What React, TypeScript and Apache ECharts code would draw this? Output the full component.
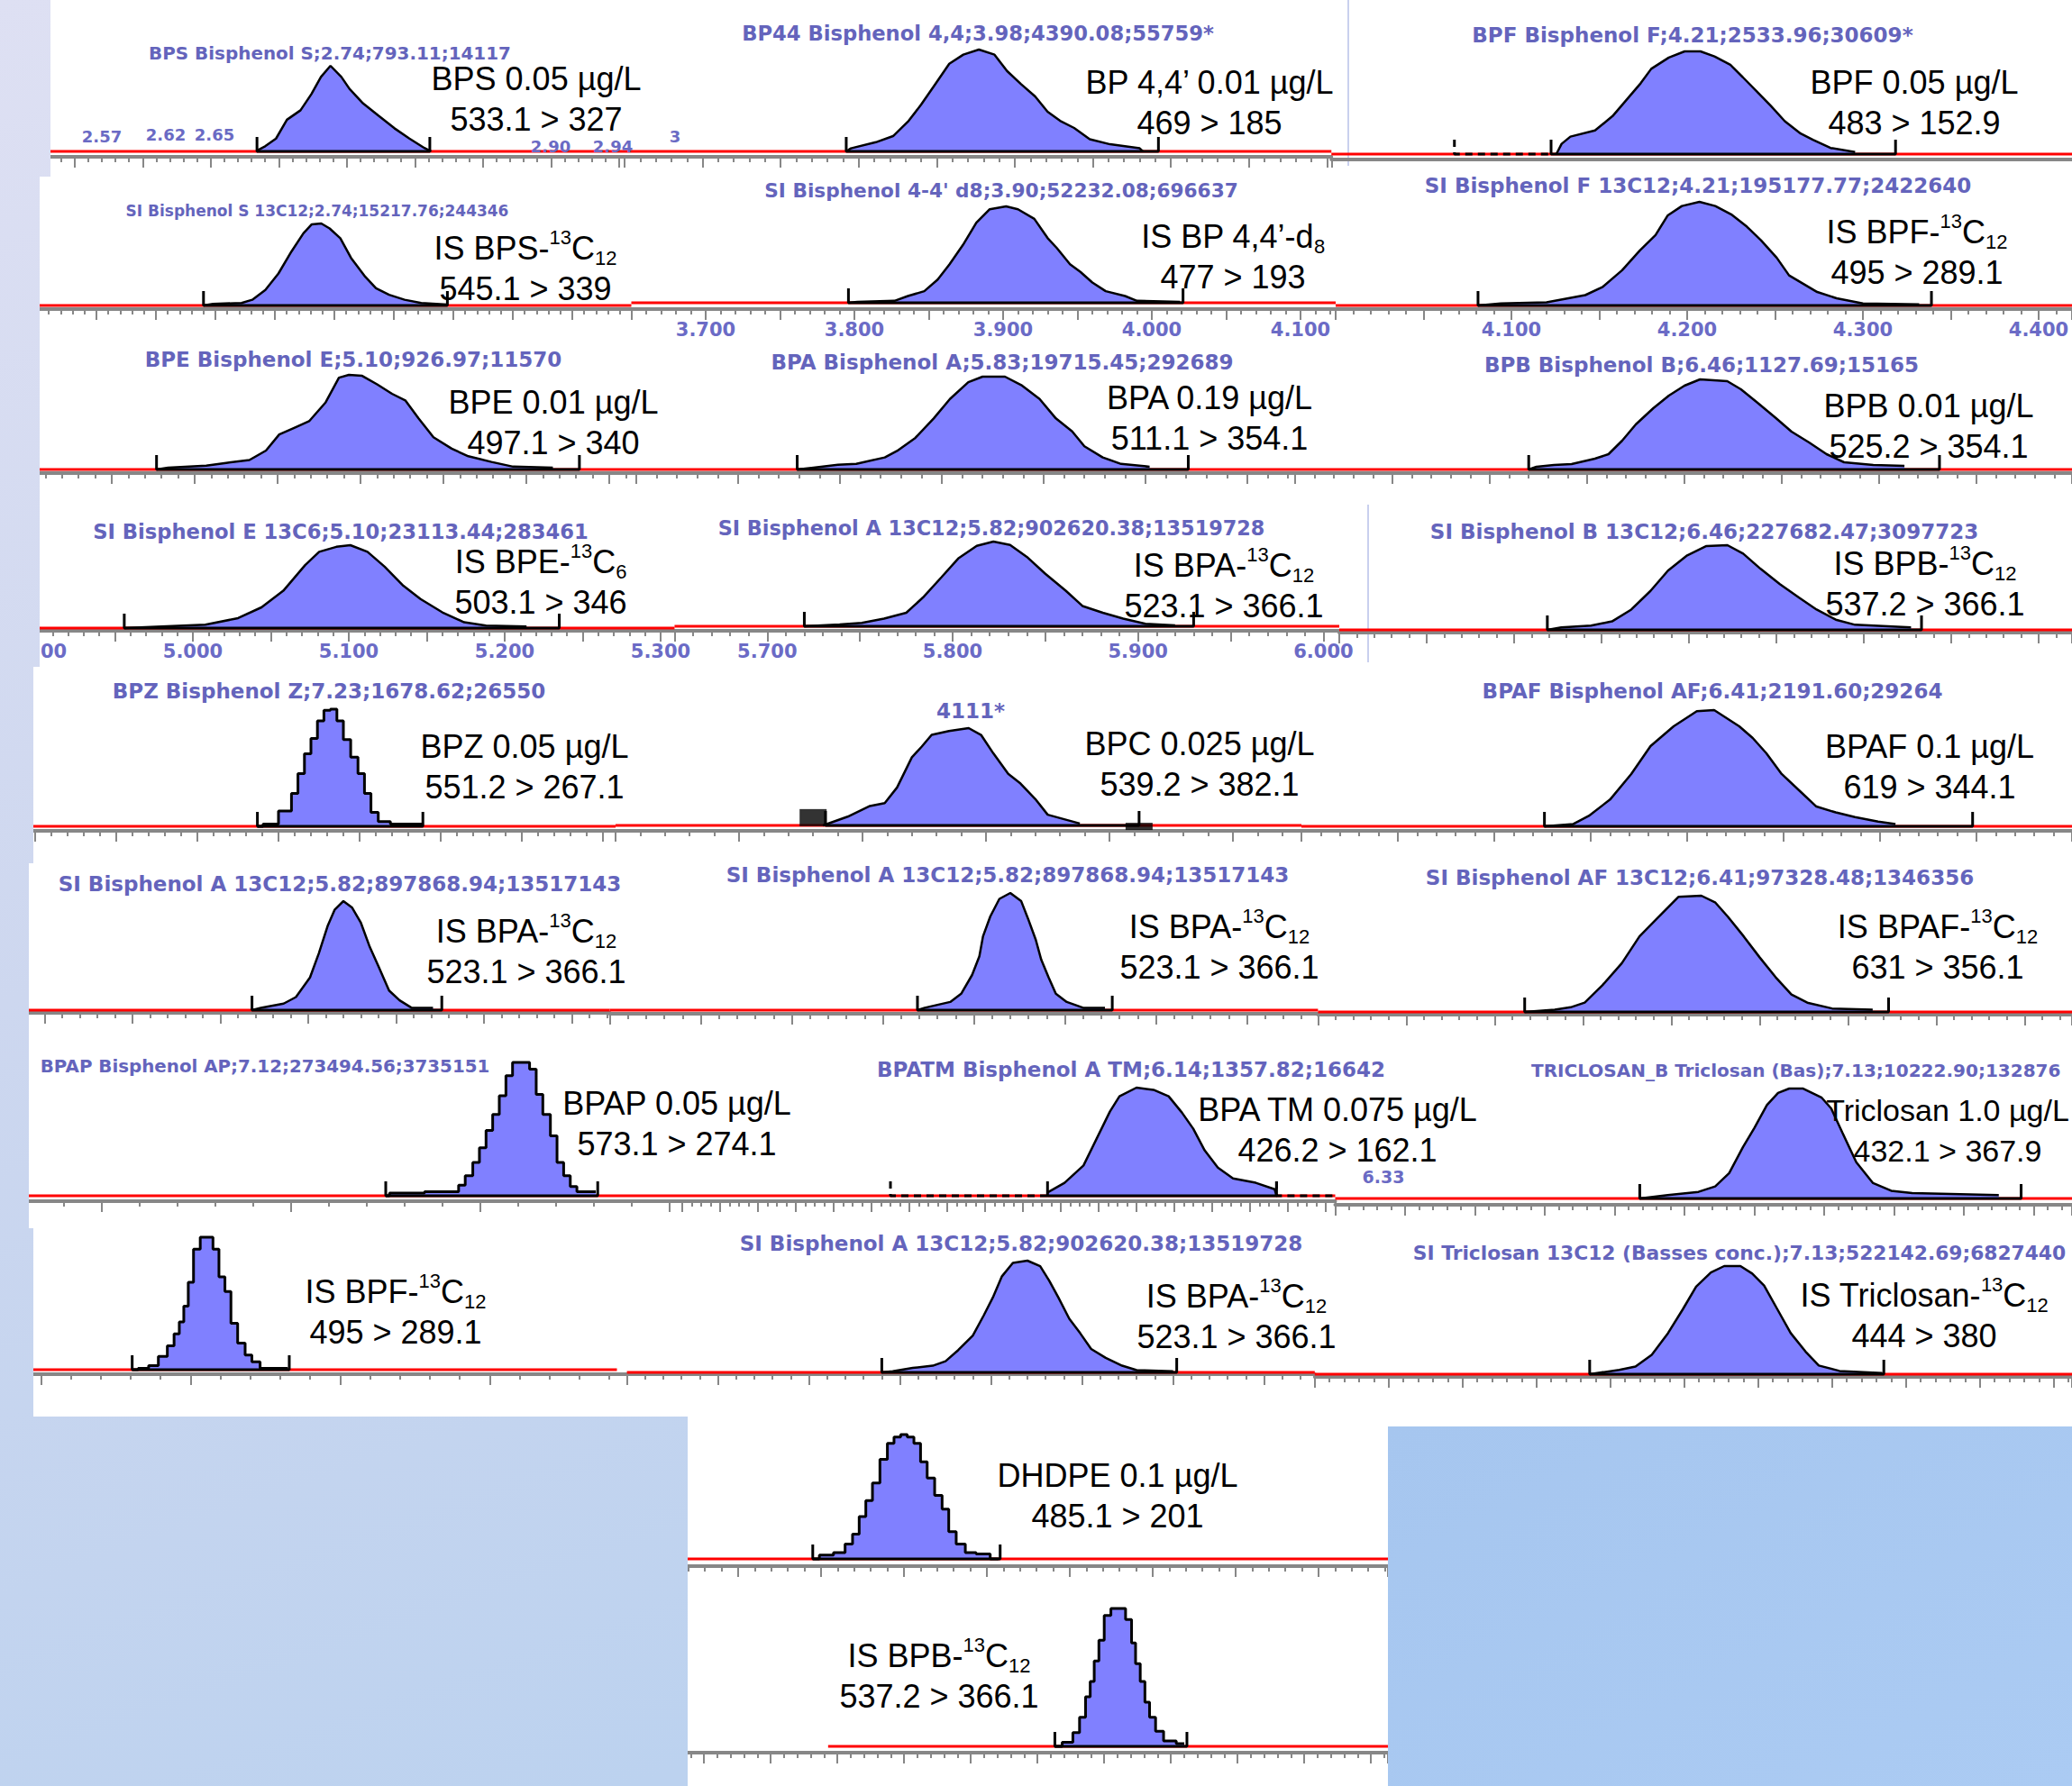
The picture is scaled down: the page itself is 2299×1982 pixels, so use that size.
import React, { useEffect, useRef } from "react";
import * as echarts from "echarts";

const W = 2299;
const H = 1982;
const OX = 200; // off-screen margin on the left so that every grid starts at a positive x

// ---------------- chromatogram data (time in min, signal in % of apex) ----------------
const bpsTime = [2.684, 2.69, 2.698, 2.706, 2.716, 2.724, 2.731, 2.738, 2.746, 2.752, 2.762, 2.773, 2.785, 2.796, 2.807, 2.812];
const bpsSignal = [1, 6, 15, 37, 48, 67, 87, 100, 87, 73, 56, 42, 27, 15, 4, 0];
const bpsInteg = [2.684, 2.811];
const bpsRtLabels = ["2.57", "2.62", "2.65", "2.90", "2.94", "3"];

const bp44Time = [3.892, 3.895, 3.911, 3.922, 3.932, 3.94, 3.949, 3.958, 3.967, 3.977, 3.987, 3.995, 4.004, 4.013, 4.021, 4.029, 4.038, 4.048, 4.061, 4.08, 4.082];
const bp44Signal = [0, 3, 9, 15, 30, 46, 66, 86, 95, 100, 95, 79, 66, 54, 39, 30, 23, 12, 7, 3, 0];
const bp44Integ = [3.892, 4.092];

const bpfTime = [4.128, 4.131, 4.136, 4.15, 4.16, 4.168, 4.176, 4.182, 4.192, 4.201, 4.21, 4.218, 4.227, 4.234, 4.242, 4.25, 4.258, 4.267, 4.274, 4.284, 4.298];
const bpfSignal = [0, 10, 17, 23, 37, 53, 69, 83, 94, 100, 100, 95, 87, 75, 61, 47, 32, 20, 14, 6, 2];
const bpfInteg = [4.125, 4.321];
const bpfPreInteg = [4.07, 4.125];

const isBpsTime = [2.64, 2.648, 2.672, 2.681, 2.692, 2.703, 2.714, 2.724, 2.731, 2.739, 2.746, 2.755, 2.764, 2.776, 2.785, 2.796, 2.809, 2.823, 2.845];
const isBpsSignal = [0, 2, 3, 7, 19, 39, 66, 88, 99, 100, 94, 82, 58, 35, 21, 13, 7, 3, 1];
const isBpsInteg = [2.64, 2.845];

const isBp44Time = [3.796, 3.802, 3.827, 3.836, 3.847, 3.856, 3.864, 3.873, 3.882, 3.891, 3.902, 3.91, 3.921, 3.93, 3.936, 3.945, 3.952, 3.96, 3.969, 3.982, 3.99, 4.019];
const isBp44Signal = [0, 1, 2, 7, 12, 24, 40, 60, 83, 97, 100, 97, 87, 67, 57, 40, 32, 21, 12, 7, 2, 1];
const isBp44Integ = [3.796, 4.021];

const isBpfTime = [4.081, 4.094, 4.12, 4.142, 4.152, 4.163, 4.173, 4.182, 4.189, 4.197, 4.207, 4.216, 4.225, 4.234, 4.242, 4.251, 4.258, 4.266, 4.274, 4.285, 4.3, 4.332];
const isBpfSignal = [0, 2, 3, 10, 18, 34, 53, 68, 87, 96, 100, 96, 88, 76, 63, 46, 29, 21, 13, 7, 2, 1];
const isBpfInteg = [4.081, 4.339];

const bpeTime = [4.977, 4.984, 5.007, 5.019, 5.033, 5.043, 5.051, 5.06, 5.069, 5.079, 5.087, 5.093, 5.101, 5.11, 5.119, 5.127, 5.135, 5.144, 5.155, 5.165, 5.179, 5.192, 5.216];
const bpeSignal = [0, 2, 4, 7, 10, 20, 37, 44, 51, 71, 97, 100, 99, 90, 80, 73, 54, 34, 22, 14, 8, 3, 2];
const bpeInteg = [4.977, 5.232];

const bpaTime = [5.729, 5.737, 5.749, 5.758, 5.772, 5.778, 5.787, 5.796, 5.804, 5.813, 5.82, 5.831, 5.839, 5.848, 5.856, 5.864, 5.87, 5.879, 5.888, 5.902];
const bpaSignal = [0, 2, 5, 6, 13, 20, 34, 55, 76, 94, 100, 100, 91, 76, 55, 41, 25, 13, 6, 3];
const bpaInteg = [5.729, 5.921];

const bpbTime = [6.37, 6.374, 6.383, 6.392, 6.404, 6.411, 6.418, 6.425, 6.434, 6.442, 6.45, 6.458, 6.472, 6.479, 6.487, 6.497, 6.505, 6.514, 6.523, 6.532, 6.547, 6.563];
const bpbSignal = [0, 3, 5, 6, 12, 17, 32, 50, 68, 82, 93, 100, 98, 89, 75, 57, 42, 30, 17, 8, 5, 4];
const bpbInteg = [6.37, 6.581];

const isBpeTime = [4.956, 4.98, 5.008, 5.029, 5.044, 5.058, 5.072, 5.081, 5.092, 5.101, 5.112, 5.123, 5.135, 5.146, 5.16, 5.174, 5.188, 5.214];
const isBpeSignal = [0, 2, 4, 12, 25, 45, 76, 92, 98, 100, 92, 74, 51, 35, 19, 7, 3, 2];
const isBpeInteg = [4.956, 5.235];

const isBpaATime = [5.72, 5.739, 5.751, 5.763, 5.775, 5.784, 5.794, 5.803, 5.813, 5.822, 5.831, 5.84, 5.85, 5.861, 5.87, 5.881, 5.892, 5.904, 5.92];
const isBpaASignal = [0, 2, 4, 9, 16, 34, 58, 80, 95, 100, 96, 82, 62, 42, 24, 16, 9, 3, 1];
const isBpaAInteg = [5.72, 5.93];

const isBpbATime = [6.369, 6.377, 6.394, 6.406, 6.417, 6.428, 6.438, 6.449, 6.46, 6.472, 6.481, 6.491, 6.502, 6.513, 6.523, 6.534, 6.545, 6.577];
const isBpbASignal = [0, 3, 5, 10, 24, 46, 70, 88, 99, 100, 90, 72, 54, 38, 24, 12, 6, 3];
const isBpbAInteg = [6.369, 6.583];

const bpzTime = [7.187, 7.194, 7.206, 7.21, 7.214, 7.218, 7.222, 7.226, 7.23, 7.234, 7.238, 7.242, 7.247, 7.251, 7.255, 7.259, 7.264, 7.274, 7.289];
const bpzSignal = [0, 2, 13, 28, 45, 62, 75, 90, 99, 100, 90, 74, 59, 45, 28, 12, 4, 2, 2];
const bpzInteg = [7.187, 7.289];

const bpcTime = [6.934, 6.944, 6.953, 6.959, 6.964, 6.97, 6.974, 6.978, 6.985, 6.993, 6.998, 7.003, 7.009, 7.014, 7.02, 7.025, 7.038];
const bpcSignal = [0, 9, 20, 23, 39, 70, 81, 93, 97, 100, 93, 74, 53, 43, 27, 11, 2];
const bpcInteg = [6.935, 7.062];
const bpcMarkTime = [6.93, 7.062];
const bpcMarkLevel = [8, -1];

const bpafTime = [6.326, 6.341, 6.349, 6.36, 6.371, 6.381, 6.393, 6.405, 6.414, 6.427, 6.434, 6.441, 6.449, 6.458, 6.467, 6.477, 6.487, 6.499, 6.508];
const bpafSignal = [0, 2, 9, 23, 45, 69, 86, 99, 100, 86, 76, 63, 45, 31, 17, 12, 8, 4, 2];
const bpafInteg = [6.326, 6.548];

const isBpaBTime = [5.768, 5.773, 5.786, 5.793, 5.801, 5.806, 5.811, 5.815, 5.82, 5.825, 5.83, 5.835, 5.84, 5.846, 5.852, 5.859, 5.871];
const isBpaBSignal = [0, 2, 6, 12, 30, 52, 77, 92, 100, 94, 80, 58, 40, 18, 9, 2, 2];
const isBpaBInteg = [5.768, 5.876];

const isBpaCTime = [5.769, 5.773, 5.787, 5.793, 5.799, 5.803, 5.805, 5.809, 5.814, 5.82, 5.826, 5.83, 5.834, 5.837, 5.841, 5.845, 5.851, 5.86, 5.872];
const isBpaCSignal = [0, 2, 7, 14, 30, 46, 63, 80, 95, 100, 93, 77, 60, 43, 28, 14, 7, 2, 2];
const isBpaCInteg = [5.769, 5.876];

const isBpafTime = [6.317, 6.334, 6.343, 6.351, 6.361, 6.372, 6.382, 6.393, 6.404, 6.417, 6.425, 6.432, 6.441, 6.45, 6.459, 6.468, 6.477, 6.491, 6.514];
const isBpafSignal = [0, 2, 4, 8, 23, 42, 65, 82, 99, 100, 94, 82, 65, 47, 30, 15, 8, 3, 2];
const isBpafInteg = [6.317, 6.523];

const bpapTime = [7.05, 7.054, 7.087, 7.09, 7.094, 7.098, 7.101, 7.105, 7.108, 7.112, 7.115, 7.119, 7.124, 7.128, 7.131, 7.135, 7.139, 7.142, 7.146, 7.149, 7.153, 7.161];
const bpapSignal = [0, 2, 3, 8, 15, 25, 36, 49, 61, 75, 90, 100, 100, 95, 76, 61, 45, 25, 15, 7, 3, 3];
const bpapInteg = [7.05, 7.162];

const bpatmTime = [6.093, 6.102, 6.112, 6.119, 6.126, 6.131, 6.14, 6.149, 6.157, 6.164, 6.17, 6.176, 6.183, 6.191, 6.203, 6.213, 6.214];
const bpatmSignal = [3, 12, 28, 53, 78, 92, 100, 98, 92, 77, 62, 42, 26, 16, 12, 6, 0];
const bpatmInteg = [6.093, 6.214];
const bpatmPreInteg = [6.01, 6.093];
const bpatmPostInteg = [6.214, 6.244];

const tcsTime = [7.018, 7.038, 7.06, 7.072, 7.082, 7.092, 7.1, 7.109, 7.117, 7.125, 7.135, 7.148, 7.155, 7.163, 7.173, 7.185, 7.198, 7.213, 7.275];
const tcsSignal = [0, 3, 6, 11, 23, 47, 64, 85, 96, 100, 100, 92, 82, 60, 33, 14, 7, 5, 3];
const tcsInteg = [7.018, 7.291];

const isBpfBTime = [4.161, 4.169, 4.175, 4.182, 4.187, 4.191, 4.194, 4.197, 4.2, 4.204, 4.209, 4.213, 4.217, 4.221, 4.225, 4.229, 4.234, 4.239, 4.243, 4.25, 4.265];
const isBpfBSignal = [0, 1, 3, 10, 18, 27, 36, 48, 66, 91, 100, 100, 91, 70, 59, 35, 20, 11, 6, 1, 1];
const isBpfBInteg = [4.161, 4.266];

const isBpaDTime = [5.74, 5.746, 5.757, 5.768, 5.775, 5.782, 5.79, 5.796, 5.801, 5.806, 5.812, 5.82, 5.827, 5.832, 5.837, 5.843, 5.849, 5.855, 5.863, 5.872, 5.88, 5.9];
const isBpaDSignal = [0, 1, 4, 6, 10, 20, 33, 51, 67, 86, 98, 100, 95, 82, 67, 48, 35, 21, 13, 6, 2, 1];
const isBpaDInteg = [5.74, 5.902];

const isTcsTime = [7.036, 7.056, 7.067, 7.078, 7.089, 7.099, 7.108, 7.118, 7.127, 7.138, 7.146, 7.154, 7.163, 7.172, 7.182, 7.191, 7.205, 7.234];
const isTcsSignal = [0, 4, 7, 18, 38, 60, 81, 94, 100, 100, 93, 82, 60, 38, 21, 8, 3, 1];
const isTcsInteg = [7.036, 7.235];

const dhdpeTime = [6.195, 6.203, 6.212, 6.217, 6.221, 6.225, 6.229, 6.233, 6.238, 6.242, 6.246, 6.25, 6.254, 6.258, 6.262, 6.266, 6.271, 6.275, 6.279, 6.284, 6.29, 6.297, 6.307];
const dhdpeSignal = [0, 3, 5, 12, 20, 34, 47, 61, 80, 93, 98, 100, 98, 93, 78, 65, 51, 40, 22, 12, 5, 4, 0];
const dhdpeInteg = [6.195, 6.308];

const isBpbBTime = [6.413, 6.424, 6.429, 6.434, 6.438, 6.441, 6.444, 6.448, 6.452, 6.458, 6.463, 6.469, 6.472, 6.475, 6.479, 6.482, 6.486, 6.491, 6.498, 6.51];
const isBpbBSignal = [0, 3, 10, 21, 36, 47, 62, 77, 95, 100, 100, 92, 75, 60, 47, 32, 21, 11, 4, 2];
const isBpbBInteg = [6.413, 6.512];

// ---------------- layout ----------------
type Seg = [string, string];
const T = (s: string): Seg[] => [[s, "n"]];
const ISO = (name: string, n: string): Seg[] => [[name + "-", "n"], ["13", "sup"], ["C", "n"], [n, "sub"]];

interface PanelDef {
  group: string;
  time: number[];
  signal: number[];
  integ: number[];
  left: number;
  right?: number;
  xr: number;
  tr: number;
  s: number;
  iv?: number;
  minor?: number;
  zeroY: number;
  apexY: number;
  axisY: number;
  ticks?: boolean;
  labels?: boolean;
  hideMinLabel?: boolean;
  step?: boolean;
  redFrom?: number;
  redTo?: number;
  dashed?: number[][];
  title?: { text: string; x: number; y: number; w: number; align?: string };
  label: { lines: Seg[][]; x: number; y: number; fs?: number };
  marks?: { time: number[]; level: number[]; sizes: number[][] };
}

const PANELS: PanelDef[] = [
  { group: "r1", time: bpsTime, signal: bpsSignal, integ: bpsInteg, left: 56, xr: 113, tr: 2.57, s: 1510, zeroY: 168, apexY: 73, axisY: 174,
    title: { text: "BPS Bisphenol S;2.74;793.11;14117", x: 366, y: 59, w: 402 },
    label: { lines: [T("BPS 0.05 µg/L"), T("533.1 > 327")], x: 595, y: 87 } },
  { group: "r1", time: bp44Time, signal: bp44Signal, integ: bp44Integ, left: 755, xr: 1126, tr: 4.0, s: 1732, zeroY: 168, apexY: 55, axisY: 174,
    title: { text: "BP44 Bisphenol 4,4;3.98;4390.08;55759*", x: 1085, y: 37, w: 524 },
    label: { lines: [T("BP 4,4’ 0.01 µg/L"), T("469 > 185")], x: 1342, y: 91 } },
  { group: "r1", time: bpfTime, signal: bpfSignal, integ: bpfInteg, left: 1496, xr: 1877, tr: 4.205, s: 1950, zeroY: 171, apexY: 57, axisY: 177, ticks: false, dashed: [bpfPreInteg],
    title: { text: "BPF Bisphenol F;4.21;2533.96;30609*", x: 1878, y: 39, w: 565 },
    label: { lines: [T("BPF 0.05 µg/L"), T("483 > 152.9")], x: 2124, y: 91 } },

  { group: "r2", time: isBpsTime, signal: isBpsSignal, integ: isBpsInteg, left: 44, xr: 371, tr: 2.75, s: 1320, zeroY: 339, apexY: 248, axisY: 343,
    title: { text: "SI Bisphenol S 13C12;2.74;15217.76;244346", x: 352, y: 234, w: 425 },
    label: { lines: [ISO("IS BPS", "12"), T("545.1 > 339")], x: 583, y: 275 } },
  { group: "r2", time: isBp44Time, signal: isBp44Signal, integ: isBp44Integ, left: 757, xr: 1113, tr: 3.9, s: 1650, zeroY: 336, apexY: 229, axisY: 343, labels: true,
    title: { text: "SI Bisphenol 4-4' d8;3.90;52232.08;696637", x: 1111, y: 211, w: 526 },
    label: { lines: [[["IS BP 4,4’-d", "n"], ["8", "sub"]], T("477 > 193")], x: 1368, y: 262 } },
  { group: "r2", time: isBpfTime, signal: isBpfSignal, integ: isBpfInteg, left: 1515, xr: 1872, tr: 4.2, s: 1950, zeroY: 339, apexY: 224, axisY: 343, labels: true, hideMinLabel: true,
    title: { text: "SI Bisphenol F 13C12;4.21;195177.77;2422640", x: 1884, y: 206, w: 683 },
    label: { lines: [ISO("IS BPF", "12"), T("495 > 289.1")], x: 2127, y: 257 } },

  { group: "r3", time: bpeTime, signal: bpeSignal, integ: bpeInteg, left: 44, xr: 400, tr: 5.1, s: 1840, zeroY: 521, apexY: 416, axisY: 525,
    title: { text: "BPE Bisphenol E;5.10;926.97;11570", x: 392, y: 399, w: 489 },
    label: { lines: [T("BPE 0.01 µg/L"), T("497.1 > 340")], x: 614, y: 446 } },
  { group: "r3", time: bpaTime, signal: bpaSignal, integ: bpaInteg, left: 757, xr: 1045, tr: 5.8, s: 2260, zeroY: 521, apexY: 418, axisY: 525,
    title: { text: "BPA Bisphenol A;5.83;19715.45;292689", x: 1112, y: 402, w: 542 },
    label: { lines: [T("BPA 0.19 µg/L"), T("511.1 > 354.1")], x: 1342, y: 441 } },
  { group: "r3", time: bpbTime, signal: bpbSignal, integ: bpbInteg, left: 1515, xr: 1869, tr: 6.45, s: 2160, zeroY: 521, apexY: 421, axisY: 525,
    title: { text: "BPB Bisphenol B;6.46;1127.69;15165", x: 1888, y: 405, w: 575 },
    label: { lines: [T("BPB 0.01 µg/L"), T("525.2 > 354.1")], x: 2140, y: 450 } },

  { group: "r4", time: isBpeTime, signal: isBpeSignal, integ: isBpeInteg, left: 44, xr: 387, tr: 5.1, s: 1730, zeroY: 697, apexY: 605, axisY: 700, labels: true,
    title: { text: "SI Bisphenol E 13C6;5.10;23113.44;283461", x: 378, y: 590, w: 550 },
    label: { lines: [ISO("IS BPE", "6"), T("503.1 > 346")], x: 600, y: 623 } },
  { group: "r4", time: isBpaATime, signal: isBpaASignal, integ: isBpaAInteg, left: 757, xr: 1057, tr: 5.8, s: 2057, zeroY: 695, apexY: 601, axisY: 700, labels: true,
    title: { text: "SI Bisphenol A 13C12;5.82;902620.38;13519728", x: 1100, y: 586, w: 607 },
    label: { lines: [ISO("IS BPA", "12"), T("523.1 > 366.1")], x: 1358, y: 627 } },
  { group: "r4", time: isBpbATime, signal: isBpbASignal, integ: isBpbAInteg, left: 1518, xr: 1874, tr: 6.45, s: 1940, zeroY: 699, apexY: 605, axisY: 702,
    title: { text: "SI Bisphenol B 13C12;6.46;227682.47;3097723", x: 1891, y: 590, w: 658 },
    label: { lines: [ISO("IS BPB", "12"), T("537.2 > 366.1")], x: 2136, y: 625 } },

  { group: "r5", time: bpzTime, signal: bpzSignal, integ: bpzInteg, left: 37, xr: 363, tr: 7.23, s: 1800, zeroY: 917, apexY: 787, axisY: 922, step: true,
    title: { text: "BPZ Bisphenol Z;7.23;1678.62;26550", x: 365, y: 767, w: 582 },
    label: { lines: [T("BPZ 0.05 µg/L"), T("551.2 > 267.1")], x: 582, y: 828 } },
  { group: "r5", time: bpcTime, signal: bpcSignal, integ: bpcInteg, left: 757, xr: 1094, tr: 7.0, s: 2740, zeroY: 916, apexY: 808, axisY: 922,
    marks: { time: bpcMarkTime, level: bpcMarkLevel, sizes: [[30, 19], [30, 8]] },
    title: { text: "4111*", x: 1077, y: 789, w: 113 },
    label: { lines: [T("BPC 0.025 µg/L"), T("539.2 > 382.1")], x: 1331, y: 825 } },
  { group: "r5", time: bpafTime, signal: bpafSignal, integ: bpafInteg, left: 1515, xr: 1872, tr: 6.4, s: 2140, zeroY: 917, apexY: 788, axisY: 922,
    title: { text: "BPAF Bisphenol AF;6.41;2191.60;29264", x: 1900, y: 767, w: 614 },
    label: { lines: [T("BPAF 0.1 µg/L"), T("619 > 344.1")], x: 2141, y: 828 } },

  { group: "r6", time: isBpaBTime, signal: isBpaBSignal, integ: isBpaBInteg, left: 32, xr: 381, tr: 5.82, s: 1950, zeroY: 1121, apexY: 1000, axisY: 1124,
    title: { text: "SI Bisphenol A 13C12;5.82;897868.94;13517143", x: 377, y: 981, w: 660 },
    label: { lines: [ISO("IS BPA", "12"), T("523.1 > 366.1")], x: 584, y: 1033 } },
  { group: "r6", time: isBpaCTime, signal: isBpaCSignal, integ: isBpaCInteg, left: 757, xr: 1121, tr: 5.82, s: 2020, zeroY: 1121, apexY: 991, axisY: 1125,
    title: { text: "SI Bisphenol A 13C12;5.82;897868.94;13517143", x: 1118, y: 971, w: 683 },
    label: { lines: [ISO("IS BPA", "12"), T("523.1 > 366.1")], x: 1353, y: 1028 } },
  { group: "r6", time: isBpafTime, signal: isBpafSignal, integ: isBpafInteg, left: 1515, xr: 1874, tr: 6.41, s: 1960, zeroY: 1123, apexY: 994, axisY: 1126,
    title: { text: "SI Bisphenol AF 13C12;6.41;97328.48;1346356", x: 1886, y: 974, w: 678 },
    label: { lines: [ISO("IS BPAF", "12"), T("631 > 356.1")], x: 2150, y: 1028 } },

  { group: "r7", time: bpapTime, signal: bpapSignal, integ: bpapInteg, left: 32, xr: 575, tr: 7.12, s: 2100, iv: 0.1, zeroY: 1327, apexY: 1179, axisY: 1333, step: true,
    title: { text: "BPAP Bisphenol AP;7.12;273494.56;3735151", x: 294, y: 1183, w: 499 },
    label: { lines: [T("BPAP 0.05 µg/L"), T("573.1 > 274.1")], x: 751, y: 1224 } },
  { group: "r7", time: bpatmTime, signal: bpatmSignal, integ: bpatmInteg, left: 757, xr: 1261, tr: 6.14, s: 2100, iv: 0.02, minor: 4, zeroY: 1327, apexY: 1207, axisY: 1333,
    dashed: [bpatmPreInteg, bpatmPostInteg],
    title: { text: "BPATM Bisphenol A TM;6.14;1357.82;16642", x: 1255, y: 1187, w: 588 },
    label: { lines: [T("BPA TM 0.075 µg/L"), T("426.2 > 162.1")], x: 1484, y: 1231 } },
  { group: "r7", time: tcsTime, signal: tcsSignal, integ: tcsInteg, left: 1515, xr: 1993, tr: 7.13, s: 1550, zeroY: 1330, apexY: 1208, axisY: 1337,
    title: { text: "TRICLOSAN_B Triclosan (Bas);7.13;10222.90;132876", x: 1699, y: 1188, w: 588, align: "left" },
    label: { lines: [T("Triclosan 1.0 µg/L"), T("432.1 > 367.9")], x: 2161, y: 1232, fs: 34 } },

  { group: "r8", time: isBpfBTime, signal: isBpfBSignal, integ: isBpfBInteg, left: 37, xr: 228, tr: 4.21, s: 1660, iv: 0.1, zeroY: 1520, apexY: 1373, axisY: 1525, step: true, redTo: 4.485,
    label: { lines: [ISO("IS BPF", "12"), T("495 > 289.1")], x: 439, y: 1433 } },
  { group: "r8", time: isBpaDTime, signal: isBpaDSignal, integ: isBpaDInteg, left: 757, xr: 1140, tr: 5.82, s: 2020, zeroY: 1523, apexY: 1399, axisY: 1525,
    title: { text: "SI Bisphenol A 13C12;5.82;902620.38;13519728", x: 1133, y: 1380, w: 702 },
    label: { lines: [ISO("IS BPA", "12"), T("523.1 > 366.1")], x: 1372, y: 1438 } },
  { group: "r8", time: isTcsTime, signal: isTcsSignal, integ: isTcsInteg, left: 1515, xr: 1918, tr: 7.13, s: 1640, zeroY: 1525, apexY: 1405, axisY: 1528,
    title: { text: "SI Triclosan 13C12 (Basses conc.);7.13;522142.69;6827440", x: 1930, y: 1390, w: 725 },
    label: { lines: [ISO("IS Triclosan", "12"), T("444 > 380")], x: 2135, y: 1437 } },

  { group: "b1", time: dhdpeTime, signal: dhdpeSignal, integ: dhdpeInteg, left: 763, right: 1540, xr: 1003, tr: 6.25, s: 1840, zeroY: 1730, apexY: 1592, axisY: 1738, step: true,
    label: { lines: [T("DHDPE 0.1 µg/L"), T("485.1 > 201")], x: 1240, y: 1637 } },
  { group: "b2", time: isBpbBTime, signal: isBpbBSignal, integ: isBpbBInteg, left: 763, right: 1540, xr: 1240, tr: 6.46, s: 1480, zeroY: 1938, apexY: 1785, axisY: 1945, step: true, redFrom: 6.243,
    label: { lines: [ISO("IS BPB", "12"), T("537.2 > 366.1")], x: 1042, y: 1837 } },
];

// white panel bands [x, y, w, h] and background strips
const PANEL_RECTS = [
  [56, 0, W - 56, 196], [44, 196, W - 44, 175], [44, 371, W - 44, 369], [37, 740, W - 37, 218],
  [32, 958, W - 32, 180], [32, 1138, W - 32, 225], [37, 1363, W - 37, 209], [1540, 1572, W - 1540, 11], [763, 1572, 777, 410],
];
const STRIP_COVERS = [
  [-OX, 0, OX + 56, 196], [-OX, 196, OX + 44, 175], [-OX, 371, OX + 44, 369], [-OX, 740, OX + 37, 218], [-OX, 958, OX + 32, 180],
  [-OX, 1138, OX + 32, 225], [-OX, 1363, OX + 37, 209], [-OX, 1572, OX + 763, 410],
];
const RT_LABEL_POS = [[113, 151], [184, 149], [238, 149], [611, 162], [680, 162], [749, 151]];

const LABEL_FONT = "Liberation Sans, Arial, sans-serif";
const TITLE_FONT = "DejaVu Sans";
const TITLE_COLOR = "#6464BC";
const AXIS_GRAY = "#878787";
const PEAK_FILL = "#8080FF";

function bgGradient() {
  return new echarts.graphic.LinearGradient(OX, 0, OX + 700, 1982, [
    { offset: 0, color: "#DEE0F3" },
    { offset: 0.5, color: "#CDD7EF" },
    { offset: 1, color: "#BCD2EF" },
  ], true);
}

function buildOption() {
  const ctx = document.createElement("canvas").getContext("2d") as CanvasRenderingContext2D;
  const fit = (text: string, w: number) => {
    ctx.font = `bold 100px "${TITLE_FONT}"`;
    const m = ctx.measureText(text).width || 1;
    return Math.max(12, Math.min(23, (100 * w) / m));
  };
  const X = (x: number) => x + OX;
  const tAt = (p: PanelDef, x: number) => p.tr + (x - p.xr) / p.s;
  const xAt = (p: PanelDef, t: number) => p.xr + (t - p.tr) * p.s;

  const geo = PANELS.map((p) => {
    const iv = p.iv ?? 0.05;
    const min = Math.round(Math.floor(tAt(p, p.left) / iv + 1e-6) * iv * 10000) / 10000;
    return { iv, min, gx0: xAt(p, min), gx1: 0, max: 0, first: false };
  });
  PANELS.forEach((p, i) => {
    const next = PANELS[i + 1];
    const sameNext = next && next.group === p.group;
    geo[i].gx1 = sameNext ? geo[i + 1].gx0 : (p.right ?? W);
    geo[i].max = tAt(p, geo[i].gx1);
    geo[i].first = i === 0 || PANELS[i - 1].group !== p.group;
  });

  const grids: any[] = [];
  const xAxes: any[] = [];
  const yAxes: any[] = [];
  const series: any[] = [];
  const texts: any[] = [];

  PANELS.forEach((p, i) => {
    const g = geo[i];
    const plotH = p.zeroY - p.apexY;
    const mh = (16 / plotH) * 100;
    grids.push({ left: X(g.gx0), top: p.apexY, width: g.gx1 - g.gx0, height: plotH, containLabel: false });
    const showTicks = p.ticks !== false;
    xAxes.push({
      type: "value", gridIndex: i, min: g.min, max: g.max, interval: g.iv, z: 3,
      offset: p.axisY - p.zeroY,
      splitLine: { show: false },
      axisLine: { show: true, onZero: false, lineStyle: { color: AXIS_GRAY, width: 4 } },
      axisTick: { show: showTicks, length: 12, lineStyle: { color: AXIS_GRAY, width: 2 } },
      minorTick: { show: showTicks, splitNumber: p.minor ?? 5, length: 6, lineStyle: { color: AXIS_GRAY, width: 2 } },
      axisLabel: {
        show: !!p.labels, margin: 12, color: "#6B6BC6", fontFamily: TITLE_FONT, fontWeight: "bold", fontSize: 21,
        showMinLabel: !p.hideMinLabel, showMaxLabel: false,
        formatter: (v: number) => (Math.round(v * 1000) % 100 === 0 ? v.toFixed(3) : ""),
      },
    });
    yAxes.push({ type: "value", gridIndex: i, min: 0, max: 100, show: false });

    const redFrom = p.redFrom ?? (g.first ? tAt(p, p.left) : g.min);
    const redTo = p.redTo ?? g.max;
    const common = { xAxisIndex: i, yAxisIndex: i, symbol: "none", silent: true, clip: false, animation: false };
    series.push({ ...common, type: "line", z: 4, data: [[redFrom, 0], [redTo, 0]], lineStyle: { color: "#FF0000", width: 3 } });
    series.push({
      ...common, type: "line", z: 5, step: p.step ? "middle" : false,
      data: p.time.map((t, k) => [t, p.signal[k]]),
      lineStyle: { color: "#000000", width: p.step ? 3 : 2.5 },
      areaStyle: { color: PEAK_FILL, opacity: 1 },
    });
    series.push({
      ...common, type: "line", z: 6,
      data: [[p.integ[0], mh], [p.integ[0], 0], [p.integ[1], 0], [p.integ[1], mh]],
      lineStyle: { color: "#000000", width: 3 },
    });
    (p.dashed || []).forEach((d) => {
      series.push({
        ...common, type: "line", z: 6, data: [[d[0], mh], [d[0], 0], [d[1], 0]],
        lineStyle: { color: "#000000", width: 3, type: [8, 6] },
      });
    });
    if (p.marks) {
      const mk = p.marks;
      series.push({
        type: "scatter", xAxisIndex: i, yAxisIndex: i, z: 7, silent: true, clip: false, symbol: "rect",
        itemStyle: { color: "#000000" },
        data: mk.time.map((t, k) => ({ value: [t, mk.level[k]], symbolSize: mk.sizes[k] })),
      });
    }

    if (p.title) {
      texts.push({
        type: "text", x: X(p.title.x), y: p.title.y, z: 20, silent: true,
        style: {
          text: p.title.text, fill: TITLE_COLOR, fontFamily: TITLE_FONT, fontWeight: "bold",
          fontSize: fit(p.title.text, p.title.w), align: p.title.align || "center", verticalAlign: "middle",
        },
      });
    }
    const fs = p.label.fs ?? 36;
    const ss = Math.round(fs * 0.61);
    const richText = p.label.lines.map((line) => line.map(([t, st]) => `{${st}|${t}}`).join("")).join("\n");
    texts.push({
      type: "text", x: X(p.label.x), y: p.label.y - 22.5, z: 21, silent: true,
      style: {
        text: richText, align: "center", verticalAlign: "top", fill: "#000000",
        fontFamily: LABEL_FONT, fontSize: fs,
        rich: {
          n: { fontFamily: LABEL_FONT, fontSize: fs, lineHeight: 45, fill: "#000000", color: "#000000" },
          sup: { fontFamily: LABEL_FONT, fontSize: ss, lineHeight: 33, verticalAlign: "top", fill: "#000000", color: "#000000" },
          sub: { fontFamily: LABEL_FONT, fontSize: ss, lineHeight: 18, verticalAlign: "bottom", fill: "#000000", color: "#000000" },
        },
      },
    });
  });

  bpsRtLabels.forEach((t, k) => {
    texts.push({
      type: "text", x: X(RT_LABEL_POS[k][0]), y: RT_LABEL_POS[k][1], z: 19, silent: true,
      style: { text: t, fill: "#6A6AC4", fontFamily: TITLE_FONT, fontWeight: "bold", fontSize: 18, align: "center", verticalAlign: "middle" },
    });
  });
  texts.push({
    type: "text", x: X(1535), y: 1306, z: 19, silent: true,
    style: { text: "6.33", fill: "#6A6AC4", fontFamily: TITLE_FONT, fontWeight: "bold", fontSize: 19, align: "center", verticalAlign: "middle" },
  });

  const elements: any[] = [];
  elements.push({ type: "rect", z: 0, silent: true, shape: { x: 0, y: 0, width: W + OX, height: H }, style: { fill: bgGradient() } });
  PANEL_RECTS.forEach((r) => elements.push({ type: "rect", z: 1, silent: true, shape: { x: X(r[0]), y: r[1], width: r[2], height: r[3] }, style: { fill: "#FFFFFF" } }));
  elements.push({ type: "line", z: 2, silent: true, shape: { x1: X(1496), y1: 0, x2: X(1496), y2: 184 }, style: { stroke: "#C9D0EE", lineWidth: 2 } });
  elements.push({ type: "line", z: 2, silent: true, shape: { x1: X(1518), y1: 560, x2: X(1518), y2: 735 }, style: { stroke: "#C9D0EE", lineWidth: 2 } });
  STRIP_COVERS.forEach((r) => elements.push({ type: "rect", z: 10, silent: true, shape: { x: X(r[0]), y: r[1], width: r[2], height: r[3] }, style: { fill: bgGradient() } }));
  elements.push({
    type: "rect", z: 10, silent: true, shape: { x: X(1540), y: 1583, width: W - 1540, height: H - 1583 },
    style: { fill: new echarts.graphic.LinearGradient(0, 0, 1, 1, [{ offset: 0, color: "#A6C6EF" }, { offset: 1, color: "#ABCBF3" }]) },
  });
  texts.forEach((t) => elements.push(t));

  return {
    animation: false,
    grid: grids,
    xAxis: xAxes,
    yAxis: yAxes,
    series,
    graphic: { elements },
  };
}

export default function App() {
  const ref = useRef<HTMLDivElement>(null);
  useEffect(() => {
    if (!ref.current) return;
    const chart = echarts.init(ref.current, undefined, { renderer: "svg" });
    chart.setOption(buildOption() as any);
    return () => chart.dispose();
  }, []);
  return <div ref={ref} style={{ position: "absolute", left: -OX, top: 0, width: W + OX, height: H }} />;
}
